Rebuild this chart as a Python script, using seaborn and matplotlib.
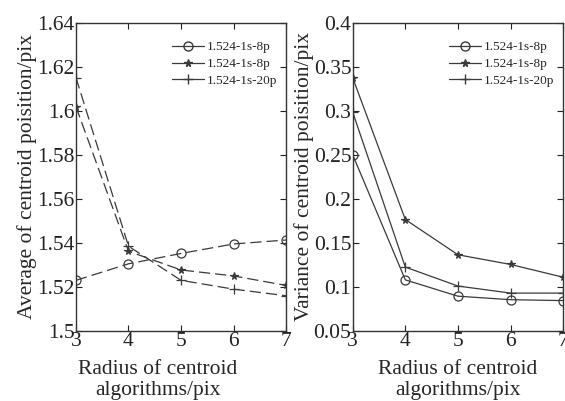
import pandas as pd
import numpy as np
import matplotlib
matplotlib.use('Agg')
import matplotlib.pyplot as plt
import seaborn as sns
from matplotlib.lines import Line2D
from matplotlib.ticker import FuncFormatter

# data
radius = [3, 4, 5, 6, 7]
names = ['1.524-1s-8p', '1.524-1s-8p ', '1.524-1s-20p']
avg_circle = [1.523, 1.5305, 1.5352, 1.5395, 1.5413]
avg_star = [1.6018, 1.5362, 1.5277, 1.5250, 1.5207]
avg_plus = [1.6150, 1.5385, 1.5230, 1.5190, 1.5160]
var_circle = [0.250, 0.108, 0.0895, 0.0855, 0.0845]
var_star = [0.3375, 0.1765, 0.1365, 0.1255, 0.111]
var_plus = [0.2985, 0.1225, 0.101, 0.093, 0.093]
markers = ['o', '*', '+']

sns.set_style('ticks')
plt.rcParams['font.family'] = ['Liberation Serif', 'DejaVu Serif']
plt.rcParams['xtick.direction'] = 'in'
plt.rcParams['ytick.direction'] = 'in'
plt.rcParams['axes.edgecolor'] = '#333333'
plt.rcParams['axes.linewidth'] = 1.0

col = '#3a3a3a'
msize = {'o': 6.5, '*': 5.5, '+': 7}

fig = plt.figure(figsize=(5.65, 4.01), dpi=100)
ax1 = fig.add_axes([0.1345, 0.1746, 0.3717, 0.769])
ax2 = fig.add_axes([0.6242, 0.1746, 0.3727, 0.769])

avg_df = pd.DataFrame({'r': radius * 3,
                       'v': avg_circle + avg_star + avg_plus,
                       's': [names[0]] * 5 + [names[1]] * 5 + [names[2]] * 5})
var_df = pd.DataFrame({'r': radius * 3,
                       'v': var_circle + var_star + var_plus,
                       's': [names[0]] * 5 + [names[1]] * 5 + [names[2]] * 5})

for i, n in enumerate(names):
    m = markers[i]
    for ax, df in [(ax1, avg_df), (ax2, var_df)]:
        sub = df[df.s == n]
        sns.lineplot(x='r', y='v', data=sub, ax=ax, color=col, lw=0.9,
                     marker=m, ms=msize[m], mfc='none' if m == 'o' else col,
                     mec=col, mew=0.9, legend=False)

# left panel uses long dashes
for ln in ax1.lines:
    ln.set_linestyle((0, (9, 4)))

fmt = FuncFormatter(lambda v, p: '%g' % round(v, 3))
ax1.set_xlim(3, 7)
ax1.set_ylim(1.5, 1.64)
ax1.set_yticks(np.arange(1.5, 1.6401, 0.02))
ax2.set_xlim(3, 7)
ax2.set_ylim(0.05, 0.4)
ax2.set_yticks(np.arange(0.05, 0.4001, 0.05))

handles = [Line2D([], [], color=col, lw=0.9, marker=m, ms=msize[m],
                  mfc='none' if m == 'o' else col, mec=col) for m in markers]
labels = ['1.524-1s-8p', '1.524-1s-8p', '1.524-1s-20p']

for ax, yl, xc in [(ax1, 'Average of centroid poisition/pix', 0.39),
                   (ax2, 'Variance of centroid poisition/pix', 0.5)]:
    ax.set_xticks(radius)
    ax.yaxis.set_major_formatter(fmt)
    ax.tick_params(top=True, right=True, labelsize=15.5, length=4, pad=1, colors='#222222')
    ax.set_xlabel('Radius of centroid\nalgorithms/pix', fontsize=15.5, linespacing=1.1)
    ax.xaxis.set_label_coords(xc, -0.095, transform=ax.transAxes)
    ax.xaxis.label.set_va('top')
    ax.set_ylabel(yl, fontsize=15.5, labelpad=0)
    ax.legend(handles, labels, loc='upper right', frameon=False, fontsize=9.5,
              handlelength=2.4, borderaxespad=0.3, labelspacing=0.35, handletextpad=0.2,
              bbox_to_anchor=(1.0, 0.97))
    for sp in ax.spines.values():
        sp.set_visible(True)

fig.savefig('out.png', dpi=100)
